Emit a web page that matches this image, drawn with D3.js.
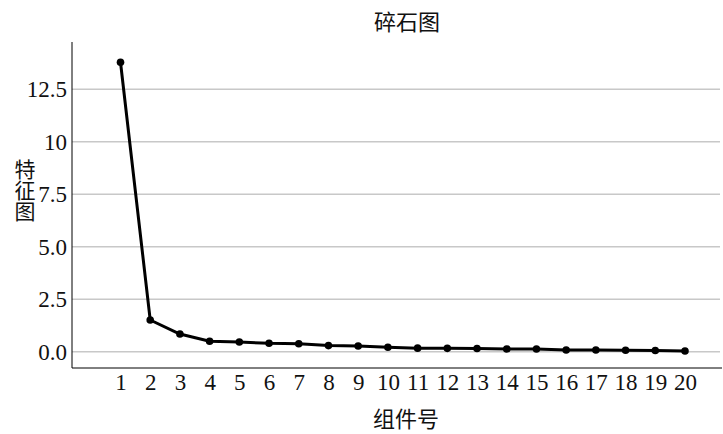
<!DOCTYPE html>
<html>
<head>
<meta charset="utf-8">
<script src="https://cdn.jsdelivr.net/npm/d3@7"></script>
<style>
html,body{margin:0;padding:0;background:#fff;}
svg{display:block;}
</style>
</head>
<body>
<svg id="chart" width="723" height="434"></svg>
<script>
const components = [1,2,3,4,5,6,7,8,9,10,11,12,13,14,15,16,17,18,19,20];
const eigenvalues = [13.79,1.51,0.84,0.50,0.46,0.40,0.38,0.29,0.27,0.21,0.17,0.16,0.15,0.13,0.13,0.08,0.08,0.07,0.06,0.03];
const yTickValues = [0, 2.5, 5, 7.5, 10, 12.5];
const yTickLabels = ["0.0","2.5","5.0","7.5","10","12.5"];
const titleText = "碎石图";
const xLabelText = "组件号";
const yLabelText = "特征图";

(function () {
const svg = d3.select("#chart");
const serif = "'Liberation Serif','DejaVu Serif',serif";
const cjk = "'Noto Sans CJK SC','Noto Sans CJK JP',sans-serif";

const x = d3.scaleLinear().domain([1, 20]).range([120.5, 685]);
const y = d3.scaleLinear().domain([0, 12.5]).range([351.7, 89.3]);

const mLeft = 72, mRight = 722, mTop = 42, mBottom = 368;

// gridlines
svg.append("g").selectAll("line").data(yTickValues).join("line")
  .attr("x1", mLeft).attr("x2", 720)
  .attr("y1", d => y(d)).attr("y2", d => y(d))
  .attr("stroke", "#c8c8c8").attr("stroke-width", 1.5);

// y axis
const yAxis = d3.axisLeft(y).tickValues(yTickValues)
  .tickFormat((d, i) => yTickLabels[i]).tickSize(0).tickPadding(5);
const gy = svg.append("g").attr("transform", `translate(${mLeft},0)`).call(yAxis);
gy.select(".domain").remove();
gy.selectAll("text").attr("font-family", serif).attr("font-size", 23).attr("fill", "#111");
svg.append("line").attr("x1", mLeft).attr("x2", mLeft).attr("y1", mTop).attr("y2", mBottom)
  .attr("stroke", "#000").attr("stroke-width", 1);

// x axis
const xAxis = d3.axisBottom(x).tickValues(components).tickFormat(d3.format("d")).tickSize(0).tickPadding(6);
const gx = svg.append("g").attr("transform", `translate(0,${mBottom})`).call(xAxis);
gx.select(".domain").remove();
gx.selectAll("text").attr("font-family", serif).attr("font-size", 23).attr("fill", "#111");
svg.append("line").attr("x1", mLeft).attr("x2", mRight).attr("y1", mBottom).attr("y2", mBottom)
  .attr("stroke", "#000").attr("stroke-width", 1);

// line
const data = components.map((c, i) => ({c, v: eigenvalues[i]}));
svg.append("path").datum(data)
  .attr("d", d3.line().x(d => x(d.c)).y(d => y(d.v)))
  .attr("fill", "none").attr("stroke", "#000").attr("stroke-width", 3)
  .attr("stroke-linejoin", "round");
svg.append("g").selectAll("circle").data(data).join("circle")
  .attr("cx", d => x(d.c)).attr("cy", d => y(d.v)).attr("r", 3.8).attr("fill", "#000");

// title
svg.append("text").attr("x", 407).attr("y", 30).attr("text-anchor", "middle")
  .attr("font-family", cjk).attr("font-size", 22).attr("fill", "#111").text(titleText);

// x label
svg.append("text").attr("x", 406).attr("y", 427).attr("text-anchor", "middle")
  .attr("font-family", cjk).attr("font-size", 22).attr("fill", "#111").text(xLabelText);

// y label vertical
svg.append("text").attr("x", 25).attr("y", 159)
  .style("writing-mode", "vertical-rl").style("text-orientation", "upright")
  .attr("font-family", cjk).attr("font-size", 21).attr("fill", "#111").text(yLabelText);
})();
</script>
</body>
</html>
